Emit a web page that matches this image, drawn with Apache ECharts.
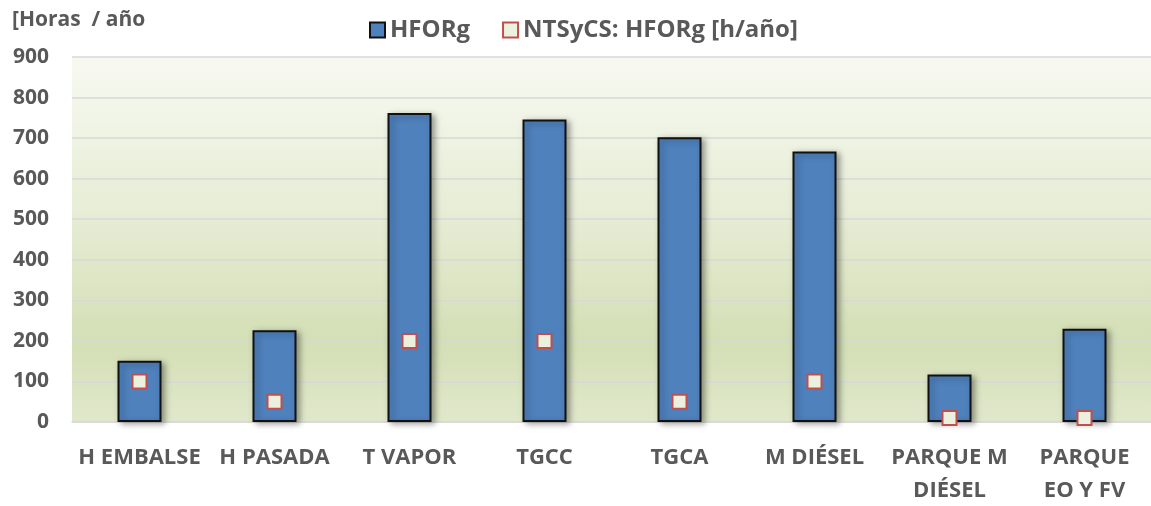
<!DOCTYPE html>
<html>
<head>
<meta charset="utf-8">
<script src="https://cdn.jsdelivr.net/npm/echarts@6/dist/echarts.min.js"></script>
<style>
  html, body { margin: 0; padding: 0; background: #fff; }
  #chart { width: 1151px; height: 506px; }
</style>
</head>
<body>
<div id="chart"></div>
<script>
// datos
var categorias = ['H EMBALSE', 'H PASADA', 'T VAPOR', 'TGCC', 'TGCA', 'M DIÉSEL', 'PARQUE M\nDIÉSEL', 'PARQUE\nEO Y FV'];
var hforg = [151, 226, 762, 746, 702, 667, 117, 230];
var ntsycs = [100, 50, 200, 200, 50, 100, 10, 10];
var ticksY = [0, 100, 200, 300, 400, 500, 600, 700, 800, 900];

var myChart = echarts.init(document.getElementById('chart'));
var gris = '#595959';
var fuente = 'Open Sans';
var option = {
    animation: false,
    //leyenda arriba
    legend: {
        top: 13,
        left: 364,
        itemGap: 32,
        itemWidth: 15,
        itemHeight: 15,
        textStyle: {color: gris, fontSize: 24, fontFamily: fuente, fontWeight: 'bold'},
        data: [
            {name: 'HFORg', icon: 'rect', itemStyle: {color: '#4f81bd', borderColor: '#111', borderWidth: 2}},
            {name: 'NTSyCS: HFORg [h/año]', icon: 'rect', itemStyle: {color: '#ebf1de', borderColor: '#c0504d', borderWidth: 2}}
        ]
    },
    grid: {
        left: 72,
        right: -1,
        top: 57,
        bottom: 84,
        outerBoundsMode: 'none',
        show: true,
        borderWidth: 0,
        backgroundColor: new echarts.graphic.LinearGradient(0, 0, 0, 1, [
            {offset: 0, color: '#f7f9f1'},
            {offset: 0.45, color: '#e6ecd4'},
            {offset: 0.78, color: '#d3dfb5'},
            {offset: 1, color: '#e0e8cb'}
        ])
    },
    xAxis: {
        type: 'category',
        data: categorias,
        axisLine: {lineStyle: {color: '#d9d9d9', width: 1.5}},
        axisTick: {show: false},
        axisLabel: {
            interval: 0,
            color: gris,
            fontSize: 22,
            fontFamily: fuente,
            fontWeight: 'bold',
            lineHeight: 33,
            margin: 19
        }
    },
    yAxis: {
        type: 'value',
        min: ticksY[0],
        max: ticksY[ticksY.length - 1],
        interval: 100,
        name: '[Horas  / año',
        nameLocation: 'end',
        nameGap: 26,
        nameTextStyle: {color: gris, fontSize: 21, fontFamily: fuente, fontWeight: 'bold', align: 'left', padding: [0, 0, 0, -60]},
        axisLine: {show: false},
        axisTick: {show: false},
        axisLabel: {color: gris, fontSize: 21, fontFamily: fuente, fontWeight: 'bold', margin: 23},
        splitLine: {lineStyle: {color: '#d9d9d9', width: 1.5}}
    },
    series: [
        {
            name: 'HFORg',
            type: 'bar',
            data: hforg,
            barWidth: 44,
            itemStyle: {
                color: '#4f81bd',
                borderColor: '#111',
                borderWidth: 2,
                shadowColor: 'rgba(0,0,0,0.35)',
                shadowBlur: 6,
                shadowOffsetX: 3,
                shadowOffsetY: 2
            }
        },
        {
            name: 'NTSyCS: HFORg [h/año]',
            type: 'scatter',
            data: ntsycs,
            symbol: 'rect',
            symbolSize: 14,
            z: 5,
            itemStyle: {color: '#ebf1de', borderColor: '#c0504d', borderWidth: 2, opacity: 1}
        }
    ]
};
myChart.setOption(option);
</script>
</body>
</html>
